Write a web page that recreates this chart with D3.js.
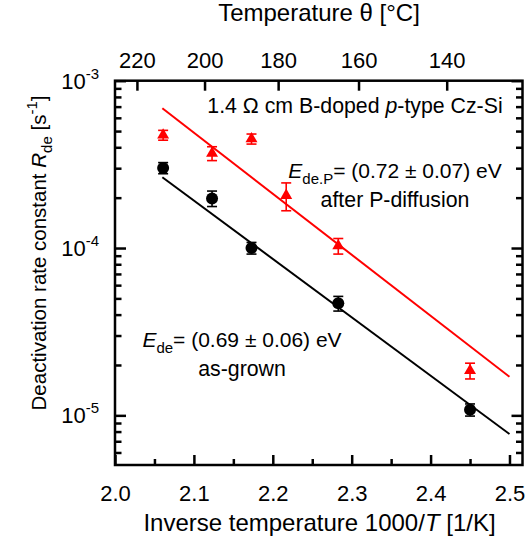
<!doctype html>
<meta charset="utf-8">
<title>Deactivation rate constant</title>
<script src="https://cdn.jsdelivr.net/npm/d3@7"></script>
<style>
body { margin: 0; background: #fff; }
svg { font-family: Arial, "Liberation Sans", sans-serif; }
</style>
<svg id="chart" width="525" height="554"></svg>
<script>
// as-grown samples (black circles)
var grownX = [2.061, 2.123, 2.173, 2.283, 2.450];
var grownR = [3.01e-4, 1.98e-4, 1.00e-4, 4.67e-5, 1.08e-5];
var grownErr = [0.23e-4, 0.21e-4, 0.08e-4, 0.47e-5, 0.09e-5];

// after P-diffusion (red triangles)
var diffX = [2.061, 2.123, 2.173, 2.217, 2.283, 2.450];
var diffR = [4.73e-4, 3.68e-4, 4.49e-4, 2.06e-4, 1.03e-4, 1.85e-5];
var diffErr = [0.32e-4, 0.35e-4, 0.31e-4, 0.39e-4, 0.11e-4, 0.20e-5];

// Arrhenius fit lines, end points
var fitX = [2.06, 2.5];
var grownFit = [2.65e-4, 7.73e-6];
var diffFit = [6.84e-4, 1.70e-5];

// ticks
var xTicks = [2.0, 2.1, 2.2, 2.3, 2.4, 2.5];
var xMinor = [2.05, 2.15, 2.25, 2.35, 2.45];
var celsiusTicks = [220, 200, 180, 160, 140];
var yDecades = [1e-5, 1e-4, 1e-3];
var decadeExp = ["-5", "-4", "-3"];

var RED = "#ff0000";

var svg = d3.select("#chart");
var pl = 115, pr = 522.5, pt = 80.7, pb = 465;

var x = d3.scaleLinear().domain([2.0, 2.5165]).range([pl, pr]);
var y = d3.scaleLog().domain([5.05e-6, 1e-3]).range([pb, pt]);

// minor log ticks 2..9 in each decade
var yMinor = [];
[1e-6, 1e-5, 1e-4].forEach(function(d) {
  for (var m = 2; m <= 9; m++) {
    var v = d * m;
    if (v > y.domain()[0] && v < y.domain()[1]) yMinor.push(v);
  }
});

function styleAxis(g) {
  g.select(".domain").remove();
  g.selectAll(".tick line").attr("stroke", "#000").attr("stroke-width", 2.5);
  g.selectAll("text").attr("font-size", 22).attr("fill", "#000");
}

// bottom axis
svg.append("g").attr("transform", "translate(0," + pb + ")")
  .call(d3.axisBottom(x).tickValues(xTicks).tickSize(-10).tickPadding(20.5)
    .tickFormat(d3.format(".1f")))
  .call(styleAxis);
svg.append("g").attr("transform", "translate(0," + pb + ")")
  .call(d3.axisBottom(x).tickValues(xMinor).tickSize(-6).tickFormat(""))
  .call(styleAxis);

// top axis (temperature in °C)
var topAxis = d3.axisTop(x)
  .tickValues(celsiusTicks.map(function(t) { return 1000 / (t + 273.15); }))
  .tickSize(-10).tickPadding(12.4)
  .tickFormat(function(d, i) { return celsiusTicks[i]; });
svg.append("g").attr("transform", "translate(0," + pt + ")")
  .call(topAxis).call(styleAxis);

// left & right axes
[[d3.axisLeft, pl], [d3.axisRight, pr]].forEach(function(a) {
  svg.append("g").attr("transform", "translate(" + a[1] + ",0)")
    .call(a[0](y).tickValues(yDecades).tickSize(-11).tickFormat(""))
    .call(styleAxis);
  svg.append("g").attr("transform", "translate(" + a[1] + ",0)")
    .call(a[0](y).tickValues(yMinor).tickSize(-6.5).tickFormat(""))
    .call(styleAxis);
});

// y tick labels 10^n
yDecades.forEach(function(d, i) {
  var t = svg.append("text")
    .attr("x", 99).attr("y", y(d) + 8)
    .attr("text-anchor", "end").attr("font-size", 22);
  t.append("tspan").text("10");
  t.append("tspan").attr("font-size", 15).attr("dy", -10).text(decadeExp[i]);
});

// frame
svg.append("rect")
  .attr("x", pl).attr("y", pt)
  .attr("width", pr - pl).attr("height", pb - pt)
  .attr("fill", "none").attr("stroke", "#000").attr("stroke-width", 2.5);

// fit lines
var line = d3.line().x(function(d) { return x(d[0]); }).y(function(d) { return y(d[1]); });
svg.append("path").datum(d3.zip(fitX, diffFit))
  .attr("d", line).attr("stroke", RED).attr("stroke-width", 2).attr("fill", "none");
svg.append("path").datum(d3.zip(fitX, grownFit))
  .attr("d", line).attr("stroke", "#000").attr("stroke-width", 2).attr("fill", "none");

function errorBars(xs, vs, es, color) {
  var g = svg.append("g").attr("stroke", color).attr("stroke-width", 1.6);
  xs.forEach(function(xv, i) {
    var cx = x(xv), y1 = y(vs[i] + es[i]), y0 = y(vs[i] - es[i]);
    g.append("line").attr("x1", cx).attr("x2", cx).attr("y1", y1).attr("y2", y0);
    g.append("line").attr("x1", cx - 5).attr("x2", cx + 5).attr("y1", y1).attr("y2", y1);
    g.append("line").attr("x1", cx - 5).attr("x2", cx + 5).attr("y1", y0).attr("y2", y0);
  });
}

errorBars(diffX, diffR, diffErr, RED);
errorBars(grownX, grownR, grownErr, "#000");

// markers
svg.append("g").selectAll("path").data(d3.zip(diffX, diffR)).join("path")
  .attr("d", d3.symbol(d3.symbolTriangle, 62))
  .attr("transform", function(d) { return "translate(" + x(d[0]) + "," + y(d[1]) + ")"; })
  .attr("fill", RED);
svg.append("g").selectAll("circle").data(d3.zip(grownX, grownR)).join("circle")
  .attr("cx", function(d) { return x(d[0]); })
  .attr("cy", function(d) { return y(d[1]); })
  .attr("r", 6).attr("fill", "#000");

// annotations
var t1 = svg.append("text").attr("x", 355).attr("y", 113)
  .attr("text-anchor", "middle").attr("font-size", 21.3);
t1.append("tspan").text("1.4 \u03A9 cm B-doped ");
t1.append("tspan").attr("font-style", "italic").text("p");
t1.append("tspan").text("-type Cz-Si");

function energyLabel(cx, cy, sub, val, second) {
  var t = svg.append("text").attr("x", cx).attr("y", cy)
    .attr("text-anchor", "middle").attr("font-size", 21);
  t.append("tspan").attr("font-style", "italic").text("E");
  t.append("tspan").attr("font-size", 15).attr("dy", 6).text(sub);
  t.append("tspan").attr("dy", -6).text("= " + val);
  svg.append("text").attr("x", cx).attr("y", cy + 29)
    .attr("text-anchor", "middle").attr("font-size", 21.3).text(second);
}
energyLabel(395, 178, "de.P", "(0.72 \u00B1 0.07) eV", "after P-diffusion");
energyLabel(242, 347, "de", "(0.69 \u00B1 0.06) eV", "as-grown");

// axis titles
svg.append("text").attr("x", 319).attr("y", 21)
  .attr("text-anchor", "middle").attr("font-size", 24)
  .text("Temperature \u03B8 [\u00B0C]");

var xt = svg.append("text").attr("x", 319.5).attr("y", 531)
  .attr("text-anchor", "middle").attr("font-size", 24);
xt.append("tspan").text("Inverse temperature 1000/");
xt.append("tspan").attr("font-style", "italic").text("T");
xt.append("tspan").text(" [1/K]");

var yt = svg.append("text")
  .attr("transform", "translate(46,253) rotate(-90)")
  .attr("text-anchor", "middle").attr("font-size", 20.5);
yt.append("tspan").text("Deactivation rate constant ");
yt.append("tspan").attr("font-style", "italic").text("R");
yt.append("tspan").attr("font-size", 15).attr("dy", 6).text("de");
yt.append("tspan").attr("dy", -6).text(" [s");
yt.append("tspan").attr("font-size", 15).attr("dy", -9).text("-1");
yt.append("tspan").attr("dy", 9).text("]");
</script>
